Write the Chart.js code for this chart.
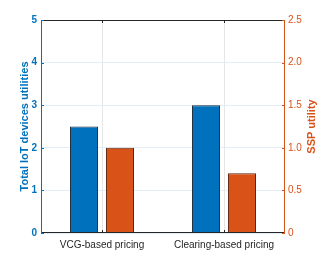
<!DOCTYPE html>
<html><head><meta charset="utf-8">
<script src="https://cdn.jsdelivr.net/npm/chart.js@4.4.0/dist/chart.umd.min.js"></script>
<style>html,body{margin:0;padding:0;background:#fff}#wrap{width:317px;height:262px}</style>
</head><body><div id="wrap"><canvas id="c" width="317" height="262"></canvas></div>
<script>
const categories = ['VCG-based pricing', 'Clearing-based pricing'];
const iotUtilities = [2.5, 3.0];
const sspUtility = [1.0, 0.7];
const leftTicks = [0, 1, 2, 3, 4, 5];
const rightTicks = [0, 0.5, 1, 1.5, 2, 2.5];
const leftTitle = 'Total IoT devices utilities';
const rightTitle = 'SSP utility';

const BLUE = '#0072BD', ORANGE = '#D95319';
const FONT = 'Liberation Sans, Arial, Helvetica, sans-serif';

const frame = {
  id: 'frame',
  afterDraw(chart) {
    const {ctx, chartArea: a, scales} = chart;
    ctx.save();
    ctx.lineWidth = 1;
    ctx.strokeStyle = '#262626';
    ctx.beginPath();
    ctx.moveTo(a.left, a.top + 0.5); ctx.lineTo(a.right, a.top + 0.5);
    ctx.moveTo(a.left, a.bottom - 0.5); ctx.lineTo(a.right, a.bottom - 0.5);
    ctx.stroke();
    categories.forEach((c, i) => {
      const x = Math.round(scales.x.getPixelForValue(i)) + 0.5;
      ctx.beginPath();
      ctx.moveTo(x, a.bottom); ctx.lineTo(x, a.bottom - 3);
      ctx.moveTo(x, a.top); ctx.lineTo(x, a.top + 3);
      ctx.stroke();
    });
    ctx.strokeStyle = BLUE;
    ctx.beginPath();
    ctx.moveTo(a.left + 0.5, a.top); ctx.lineTo(a.left + 0.5, a.bottom);
    leftTicks.forEach(v => {
      const y = Math.round(scales.y.getPixelForValue(v)) + 0.5;
      ctx.moveTo(a.left, y); ctx.lineTo(a.left + 3, y);
    });
    ctx.stroke();
    ctx.strokeStyle = ORANGE;
    ctx.beginPath();
    ctx.moveTo(a.right - 0.5, a.top); ctx.lineTo(a.right - 0.5, a.bottom);
    rightTicks.forEach(v => {
      const y = Math.round(scales.y1.getPixelForValue(v)) + 0.5;
      ctx.moveTo(a.right, y); ctx.lineTo(a.right - 3, y);
    });
    ctx.stroke();
    // right axis title, reading bottom-to-top
    ctx.fillStyle = ORANGE;
    ctx.font = 'bold 11px ' + FONT;
    ctx.textAlign = 'center';
    ctx.textBaseline = 'middle';
    ctx.translate(312, (a.top + a.bottom) / 2);
    ctx.rotate(-Math.PI / 2);
    ctx.fillText(rightTitle, 0, 0);
    ctx.restore();
  }
};

new Chart(document.getElementById('c'), {
  type: 'bar',
  data: {
    labels: categories,
    datasets: [
      {label: leftTitle, data: iotUtilities, yAxisID: 'y',
       backgroundColor: BLUE, borderColor: '#1c2a38', borderWidth: 1,
       categoryPercentage: 0.59, barPercentage: 0.78},
      {label: rightTitle, data: sspUtility, yAxisID: 'y1',
       backgroundColor: ORANGE, borderColor: '#5a2410', borderWidth: 1,
       categoryPercentage: 0.59, barPercentage: 0.78}
    ]
  },
  options: {
    responsive: false,
    animation: false,
    devicePixelRatio: 1,
    layout: {padding: {top: 20, left: 0, right: 0, bottom: 0}},
    plugins: {legend: {display: false}, tooltip: {enabled: false}},
    scales: {
      x: {
        grid: {offset: false, color: '#e6e6e6', drawTicks: false},
        border: {display: false},
        ticks: {color: '#262626', padding: 6, font: {family: FONT, size: 10}, maxRotation: 0},
        afterFit(s) { s.height = 29; }
      },
      y: {
        position: 'left', min: 0, max: 5,
        afterBuildTicks(s) { s.ticks = leftTicks.map(v => ({value: v})); },
        grid: {color: '#e3edf7', drawTicks: false},
        border: {display: false},
        ticks: {color: BLUE, padding: 4, font: {family: FONT, size: 10, weight: 'bold'}},
        title: {display: true, text: leftTitle, color: BLUE,
                font: {family: FONT, size: 11, weight: 'bold', lineHeight: 1},
                padding: {top: 19, bottom: 0}},
        afterFit(s) { s.width = 41; }
      },
      y1: {
        position: 'right', min: 0, max: 2.5,
        afterBuildTicks(s) { s.ticks = rightTicks.map(v => ({value: v})); },
        grid: {display: false, drawTicks: false},
        border: {display: false},
        ticks: {color: ORANGE, padding: 3, font: {family: FONT, size: 10}},
        title: {display: false},
        afterFit(s) { s.width = 32; }
      }
    }
  },
  plugins: [frame]
});
</script>
</body></html>
